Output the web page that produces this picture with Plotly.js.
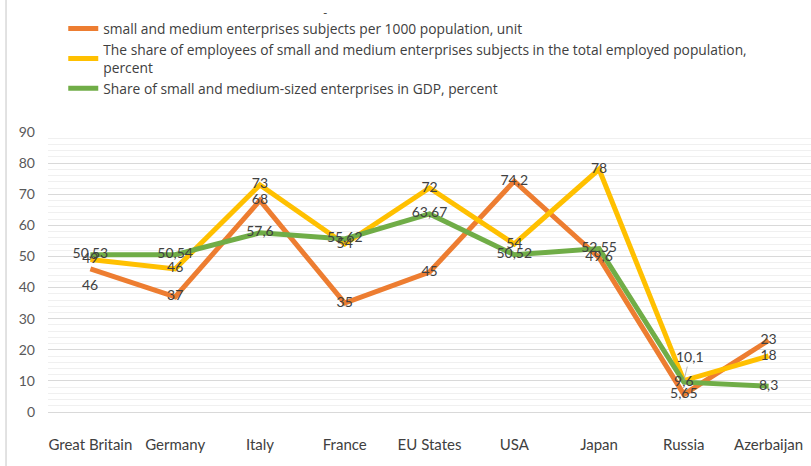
<!DOCTYPE html>
<html>
<head>
<meta charset="utf-8">
<script src="https://cdn.plot.ly/plotly-3.0.1.min.js"></script>
<style>html,body{margin:0;padding:0;background:#fff;}#chart{width:811px;height:466px;}</style>
</head>
<body>
<div id="chart"></div>
<script>
const categories = ["Great Britain", "Germany", "Italy", "France", "EU States", "USA", "Japan", "Russia", "Azerbaijan"];
const smePer1000 = [46, 37, 68, 35, 45, 74.2, 49.6, 5.65, 23];
const employeeShare = [49, 46, 73, 54, 72, 54, 78, 10.1, 18];
const gdpShare = [50.53, 50.54, 57.6, 55.62, 63.67, 50.52, 52.55, 9.6, 8.3];
const seriesNames = [
  "small and medium enterprises subjects per 1000 population, unit",
  "The share of employees of small and medium enterprises subjects in the total employed population,<br>percent",
  "Share of small and medium-sized enterprises in GDP, percent"
];
const colors = ["#ED7D31", "#FFC000", "#70AD47"];

const fmt = v => String(v).replace('.', ',');
const FONT = "Lato, 'Liberation Sans', sans-serif";
const LEGFONT = "'Open Sans', 'Noto Sans', sans-serif";
const series = [smePer1000, employeeShare, gdpShare];

const traces = [];
series.forEach((vals, i) => {
  traces.push({
    type: 'scatter', mode: 'lines', x: categories, y: vals, name: seriesNames[i],
    line: {color: colors[i], width: 5}, hoverinfo: 'x+y'
  });
});
// data labels (two labels are drawn as annotations below because they are offset)
const textOrange = smePer1000.map((v, j) => j === 0 ? '' : fmt(v));
const textYellow = employeeShare.map((v, j) => j === 7 ? '' : fmt(v));
const labelSpecs = [
  {vals: smePer1000, text: textOrange},
  {vals: employeeShare, text: textYellow},
  {vals: gdpShare, text: gdpShare.map(fmt)}
];
labelSpecs.forEach(s => {
  traces.push({
    type: 'scatter', mode: 'text', x: categories, y: s.vals, text: s.text,
    textposition: 'middle center', showlegend: false, hoverinfo: 'skip',
    textfont: {family: FONT, size: 14, color: '#404040'}
  });
});

const layout = {
  width: 811, height: 466,
  margin: {l: 48, r: 0, t: 132, b: 54},
  paper_bgcolor: '#fff', plot_bgcolor: '#fff',
  font: {family: FONT, color: '#404040'},
  showlegend: true,
  legend: {
    x: 0.02, y: 1.425, xanchor: 'left', yanchor: 'top',
    font: {family: LEGFONT, size: 13.8, color: '#404040'},
    bgcolor: 'rgba(0,0,0,0)', traceorder: 'normal'
  },
  xaxis: {
    type: 'category', range: [-0.5, 8.5], showgrid: false, zeroline: false,
    showline: false, ticks: '', ticklabelstandoff: 22,
    tickfont: {family: FONT, size: 15, color: '#404040'}, fixedrange: true
  },
  yaxis: {
    range: [0, 90], dtick: 10, showgrid: true, gridcolor: '#d9d9d9', gridwidth: 1,
    zeroline: true, zerolinecolor: '#d9d9d9', zerolinewidth: 1,
    minor: {dtick: 2, showgrid: true, gridcolor: '#f0f0f0', gridwidth: 1},
    ticks: '', ticklabelstandoff: 12,
    tickfont: {family: FONT, size: 14, color: '#595959'}, fixedrange: true
  },
  shapes: [
    {type: 'line', xref: 'paper', yref: 'paper', x0: -0.055, x1: -0.055, y0: -0.2, y1: 1.48,
     line: {color: '#d9d9d9', width: 1.5}}
  ],
  annotations: [
    {x: categories[0], y: smePer1000[0], xref: 'x', yref: 'y', text: fmt(smePer1000[0]),
     showarrow: false, yshift: -16,
     font: {family: FONT, size: 14, color: '#404040'}},
    {x: categories[7], y: employeeShare[7], xref: 'x', yref: 'y', text: fmt(employeeShare[7]),
     showarrow: true, arrowhead: 0, arrowwidth: 0.8, arrowcolor: '#a6a6a6', ax: 6, ay: -24,
     font: {family: FONT, size: 14, color: '#404040'}},
    {xref: 'paper', yref: 'paper', x: 0.363, y: 1.425, yanchor: 'middle', text: '-', showarrow: false,
     font: {family: FONT, size: 12, color: '#404040'}}
  ]
};

Plotly.newPlot('chart', traces, layout, {displayModeBar: false, staticPlot: true});
</script>
</body>
</html>
